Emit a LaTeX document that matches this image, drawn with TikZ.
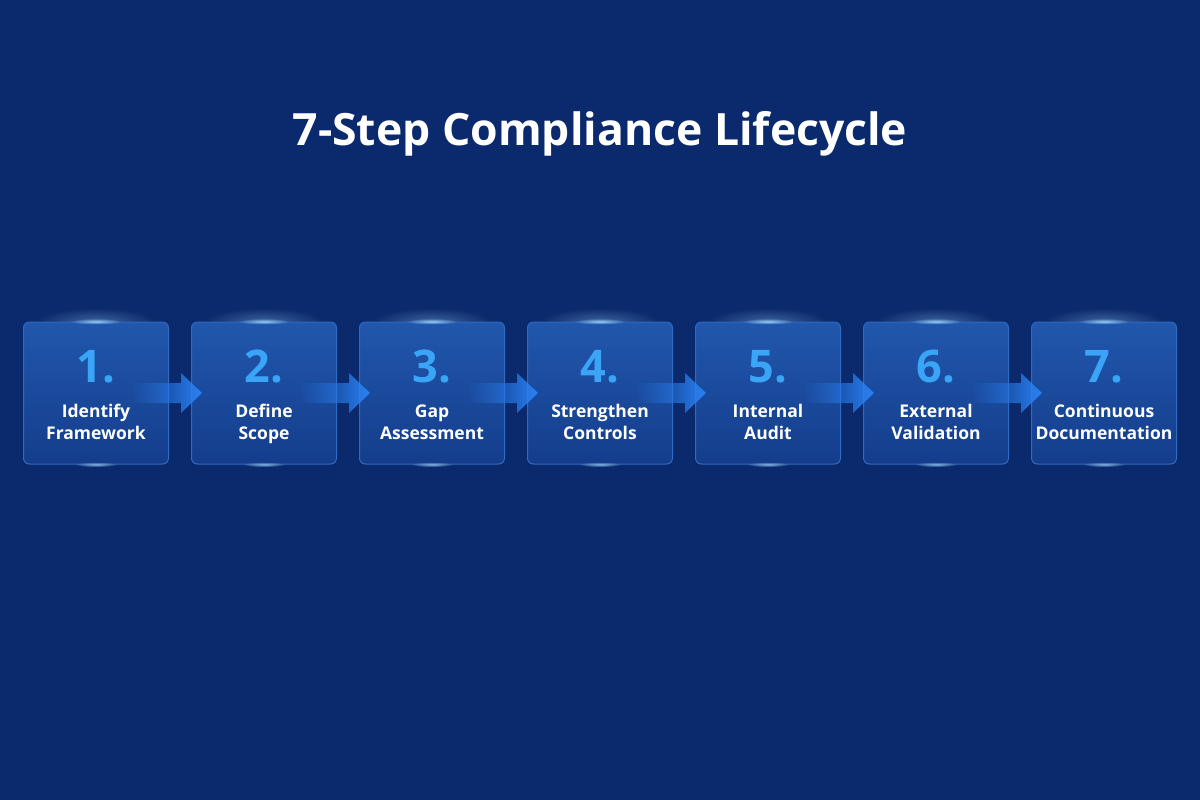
\documentclass[tikz,border=0pt]{standalone}
\usepackage{fontspec}
\setmainfont{Open Sans}
\usetikzlibrary{fadings}

\definecolor{bgblue}{HTML}{0B2A6D}
\definecolor{boxtop}{HTML}{2157AC}
\definecolor{boxbot}{HTML}{143D8C}
\definecolor{boxline}{HTML}{2F69C0}
\definecolor{numblue}{HTML}{3AA4F6}
\definecolor{arrowblue}{HTML}{2A80F2}
\definecolor{glowblue}{HTML}{9FD4FF}

\tikzfading[name=arrowfade, left color=transparent!100, middle color=transparent!15, right color=transparent!0]
\tikzfading[name=glowfade, inner color=transparent!0, outer color=transparent!100]

\tikzset{
  stepbox/.style={draw=boxline, line width=1pt, rounded corners=6pt,
    top color=boxtop, bottom color=boxbot, minimum width=145pt, minimum height=142pt},
  stepnum/.style={text=numblue, font=\fontsize{45}{45}\selectfont\bfseries},
  steplabel/.style={text=white, align=center, font=\fontsize{17.5}{22}\selectfont\bfseries},
  steparrow/.style={fill=arrowblue, path fading=arrowfade}
}

\begin{document}
\begin{tikzpicture}[x=1pt, y=-1pt]
    % Fundo
    \fill[bgblue] (0,0) rectangle (1200,800);
    \useasboundingbox (0,0) rectangle (1200,800);
    % Titulo
    \node[text=white, anchor=base, font=\fontsize{44.5}{44.5}\selectfont\bfseries] (title) at (600,145) {7-Step Compliance Lifecycle};
    % Caixas
    \foreach \i/\la/\lb in {1/Identify/Framework, 2/Define/Scope, 3/Gap/Assessment, 4/Strengthen/Controls, 5/Internal/Audit, 6/External/Validation, 7/Continuous/Documentation} {
        \fill[glowblue, path fading=glowfade, opacity=0.35] (96+168*\i-168,322) ellipse (60 and 14);
        \node[stepbox] (s\i) at (96+168*\i-168,393) {};
        \fill[glowblue, path fading=glowfade, opacity=0.9] (s\i.north) ellipse (26 and 3);
        \fill[glowblue, path fading=glowfade, opacity=0.8] (s\i.south) ellipse (22 and 2.5);
        \node[stepnum] (n\i) at ([yshift=26pt]s\i.center) {\i.};
        \node[steplabel] (l\i) at ([yshift=-31.5pt]s\i.center) {\strut\la\\\strut\lb};
    }
    % Setas
    \foreach \i [evaluate=\i as \j using int(\i+1)] in {1,...,6} {
        \fill[steparrow] ([shift={(-38,-10)}]s\i.east) -- ([shift={(12,-10)}]s\i.east)
            -- ([shift={(12,-20)}]s\i.east) -- ([xshift=11pt]s\j.west)
            -- ([shift={(12,20)}]s\i.east) -- ([shift={(12,10)}]s\i.east)
            -- ([shift={(-38,10)}]s\i.east) -- cycle;
    }
\end{tikzpicture}
\end{document}
